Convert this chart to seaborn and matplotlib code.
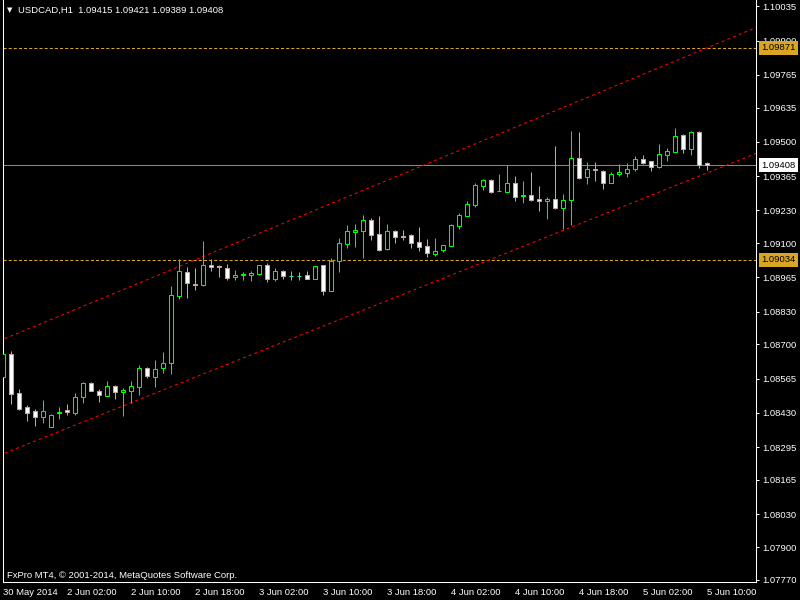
import numpy as np
import pandas as pd
import matplotlib
matplotlib.use('Agg')
import matplotlib.pyplot as plt
import matplotlib.transforms as mtransforms
import seaborn as sns

# USDCAD H1, 30 May 2014 18:00 -> 5 Jun 2014 10:00
symbol = 'USDCAD,H1'
opens = [1.08572, 1.08662, 1.08508, 1.08453, 1.08437, 1.08414, 1.08374, 1.08430, 1.08441, 1.08430,
         1.08493, 1.08546, 1.08518, 1.08497, 1.08534, 1.08512, 1.08518, 1.08530, 1.08607, 1.08570,
         1.08605, 1.08625, 1.08893, 1.08986, 1.08939, 1.08933, 1.09012, 1.09009, 1.09000, 1.08968,
         1.08975, 1.08975, 1.08980, 1.09012, 1.08960, 1.08990, 1.08972, 1.08972, 1.08973, 1.08957,
         1.09013, 1.08912, 1.09031, 1.09098, 1.09145, 1.09149, 1.09191, 1.09136, 1.09077, 1.09148,
         1.09130, 1.09131, 1.09105, 1.09089, 1.09058, 1.09074, 1.09090, 1.09169, 1.09208, 1.09251,
         1.09327, 1.09349, 1.09305, 1.09303, 1.09336, 1.09286, 1.09289, 1.09273, 1.09268, 1.09273,
         1.09240, 1.09269, 1.09435, 1.09362, 1.09393, 1.09385, 1.09339, 1.09372, 1.09378, 1.09393,
         1.09432, 1.09424, 1.09401, 1.09449, 1.09461, 1.09527, 1.09473, 1.09539, 1.09415]
highs = [1.08670, 1.08674, 1.08524, 1.08461, 1.08445, 1.08481, 1.08426, 1.08453, 1.08465, 1.08508,
         1.08552, 1.08552, 1.08524, 1.08556, 1.08541, 1.08528, 1.08556, 1.08619, 1.08609, 1.08639,
         1.08670, 1.08931, 1.09037, 1.09006, 1.09002, 1.09109, 1.09036, 1.09014, 1.09016, 1.08992,
         1.08986, 1.08990, 1.09013, 1.09021, 1.09001, 1.08994, 1.08990, 1.08987, 1.08989, 1.09010,
         1.09013, 1.09040, 1.09119, 1.09172, 1.09176, 1.09211, 1.09199, 1.09207, 1.09176, 1.09152,
         1.09152, 1.09136, 1.09164, 1.09116, 1.09120, 1.09093, 1.09176, 1.09218, 1.09268, 1.09339,
         1.09355, 1.09353, 1.09373, 1.09409, 1.09365, 1.09345, 1.09381, 1.09326, 1.09281, 1.09484,
         1.09294, 1.09543, 1.09539, 1.09420, 1.09420, 1.09389, 1.09381, 1.09413, 1.09417, 1.09444,
         1.09448, 1.09426, 1.09492, 1.09476, 1.09555, 1.09531, 1.09543, 1.09541, 1.09421]
lows = [1.08489, 1.08465, 1.08441, 1.08398, 1.08378, 1.08390, 1.08374, 1.08406, 1.08422, 1.08422,
        1.08469, 1.08516, 1.08473, 1.08495, 1.08485, 1.08418, 1.08469, 1.08499, 1.08566, 1.08530,
        1.08589, 1.08582, 1.08880, 1.08885, 1.08915, 1.08929, 1.08988, 1.08966, 1.08953, 1.08955,
        1.08956, 1.08952, 1.08973, 1.08948, 1.08952, 1.08958, 1.08955, 1.08955, 1.08957, 1.08957,
        1.08897, 1.08912, 1.08986, 1.09082, 1.09086, 1.09041, 1.09113, 1.09070, 1.09073, 1.09102,
        1.09113, 1.09081, 1.09069, 1.09044, 1.09050, 1.09066, 1.09089, 1.09155, 1.09207, 1.09244,
        1.09310, 1.09299, 1.09304, 1.09302, 1.09268, 1.09260, 1.09266, 1.09227, 1.09197, 1.09236,
        1.09156, 1.09172, 1.09353, 1.09334, 1.09347, 1.09315, 1.09336, 1.09366, 1.09362, 1.09386,
        1.09414, 1.09386, 1.09398, 1.09426, 1.09460, 1.09457, 1.09449, 1.09398, 1.09389]
closes = [1.08662, 1.08504, 1.08445, 1.08431, 1.08414, 1.08437, 1.08422, 1.08433, 1.08435, 1.08491,
          1.08546, 1.08518, 1.08499, 1.08534, 1.08512, 1.08522, 1.08534, 1.08607, 1.08574, 1.08603,
          1.08625, 1.08895, 1.08988, 1.08941, 1.08933, 1.09012, 1.09004, 1.09006, 1.08964, 1.08976,
          1.08978, 1.08982, 1.09012, 1.08960, 1.08988, 1.08972, 1.08972, 1.08972, 1.08960, 1.09009,
          1.08912, 1.09031, 1.09099, 1.09148, 1.09152, 1.09190, 1.09133, 1.09073, 1.09147, 1.09126,
          1.09126, 1.09102, 1.09086, 1.09062, 1.09069, 1.09092, 1.09171, 1.09211, 1.09255, 1.09330,
          1.09349, 1.09303, 1.09307, 1.09336, 1.09283, 1.09290, 1.09270, 1.09265, 1.09273, 1.09239,
          1.09269, 1.09435, 1.09358, 1.09392, 1.09388, 1.09339, 1.09373, 1.09381, 1.09393, 1.09432,
          1.09417, 1.09402, 1.09452, 1.09464, 1.09523, 1.09473, 1.09539, 1.09409, 1.09408]

x_tick_bars = [0, 8, 16, 24, 32, 40, 48, 56, 64, 72, 80, 88]
x_tick_labels = ['30 May 2014', '2 Jun 02:00', '2 Jun 10:00', '2 Jun 18:00', '3 Jun 02:00',
                 '3 Jun 10:00', '3 Jun 18:00', '4 Jun 02:00', '4 Jun 10:00', '4 Jun 18:00',
                 '5 Jun 02:00', '5 Jun 10:00']
y_ticks = [1.10035, 1.09900, 1.09765, 1.09635, 1.09500, 1.09365, 1.09230, 1.09100, 1.08965,
           1.08830, 1.08700, 1.08565, 1.08430, 1.08295, 1.08165, 1.08030, 1.07900, 1.07770]

levels = [1.09871, 1.09034]
bid = 1.09408
# trend channel anchors (bar index, price)
channel_bars = [0, 88]
channel_upper = [1.08720, 1.09871]
channel_lower = [1.08268, 1.09377]

BULL = '#00ff00'
BEAR = '#c4a4a4'
FLAT = '#40e0b0'
ORANGE = '#daa520'
FONT = ['Liberation Sans', 'DejaVu Sans']

sns.set_style('dark', rc={'axes.facecolor': 'black', 'figure.facecolor': 'black'})
plt.rcParams['font.family'] = FONT
plt.rcParams['lines.scale_dashes'] = False

df = pd.DataFrame({'open': opens, 'high': highs, 'low': lows, 'close': closes})
df['bar'] = np.arange(len(df))

fig = plt.figure(figsize=(8, 6), dpi=100)
ax = fig.add_axes([2.5 / 800, 18 / 600, 753.5 / 800, 582 / 600])
ax.set_facecolor('black')

xmin, xmax = -0.0625, 94.125
ymin, ymax = 1.07762, 1.10060

# horizontal lines
for lv in levels:
    ax.axhline(lv, color=ORANGE, lw=0.75, ls=(0, (2.2, 1.5)), zorder=1)
ax.axhline(bid, color='#778899', lw=0.75, zorder=1)

# trend channel (extended rays)
ext = np.array([xmin - 1, xmax + 1])
for ch in (channel_upper, channel_lower):
    slope = (ch[1] - ch[0]) / (channel_bars[1] - channel_bars[0])
    yy = ch[0] + slope * (ext - channel_bars[0])
    sns.lineplot(x=ext, y=yy, ax=ax, color='red', lw=0.75, linestyle=(0, (2.2, 2.2)),
                 zorder=1, legend=False)

# candles
bull = df[df['close'] > df['open']]
bear = df[df['close'] < df['open']]
flat = df[df['close'] == df['open']]

ax.vlines(bull['bar'], bull['low'], bull['high'], color=BULL, lw=0.75, zorder=2)
ax.vlines(bear['bar'], bear['low'], bear['high'], color=BEAR, lw=0.75, zorder=2)
ax.vlines(flat['bar'], flat['low'], flat['high'], color=FLAT, lw=0.75, zorder=2)

ax.bar(bull['bar'], bull['close'] - bull['open'], bottom=bull['open'], width=0.5,
       facecolor='black', edgecolor=BULL, lw=0.75, zorder=3)
ax.bar(bear['bar'], bear['open'] - bear['close'], bottom=bear['close'], width=0.5,
       facecolor='white', edgecolor=BEAR, lw=0.75, zorder=3)
ax.hlines(flat['close'], flat['bar'] - 0.3, flat['bar'] + 0.3, color=FLAT, lw=0.75, zorder=3)

ax.set_xlim(xmin, xmax)
ax.set_ylim(ymin, ymax)

# axes styling
for side in ['top']:
    ax.spines[side].set_visible(False)
for side in ['right', 'bottom', 'left']:
    ax.spines[side].set_visible(True)
    ax.spines[side].set_color('white')
    ax.spines[side].set_linewidth(0.75)

ax.yaxis.tick_right()
ax.set_yticks(y_ticks)
ax.set_yticklabels([f'{v:.5f}' for v in y_ticks])
ax.set_xticks(x_tick_bars)
ax.set_xticklabels(x_tick_labels, ha='left')
ax.tick_params(axis='both', colors='white', labelcolor='white', labelsize=6.8,
               length=2.5, width=0.75, direction='out')
ax.tick_params(axis='y', pad=2)
ax.tick_params(axis='x', pad=1.5)
ax.grid(False)
ax.set_xlabel('')
ax.set_ylabel('')

# price tags on the right scale
off = mtransforms.offset_copy(ax.get_yaxis_transform(), fig=fig, x=5, y=0, units='dots')
for lv in levels:
    ax.text(1.0, lv, f'{lv:.5f}', transform=off, ha='left', va='center', fontsize=6.8,
            color='black', clip_on=False, zorder=5,
            bbox=dict(boxstyle='square,pad=0.25', fc=ORANGE, ec='none'))
ax.text(1.0, bid, f'{bid:.5f}', transform=off, ha='left', va='center', fontsize=6.8,
        color='black', clip_on=False, zorder=5,
        bbox=dict(boxstyle='square,pad=0.25', fc='white', ec='none'))

# header and footer texts
fig.text(7 / 800, 1 - 10 / 600, '\u25bc', color='white', fontsize=5, va='center',
         family=['DejaVu Sans'])
fig.text(18 / 800, 1 - 10 / 600,
         f'{symbol}  {opens[-1]:.5f} {highs[-1]:.5f} {lows[-1]:.5f} {closes[-1]:.5f}',
         color='white', fontsize=6.8, va='center')
fig.text(7 / 800, 1 - 575 / 600, 'FxPro MT4, \u00a9 2001-2014, MetaQuotes Software Corp.',
         color='white', fontsize=6.8, va='center')

fig.savefig('out.png', dpi=100, facecolor='black')
